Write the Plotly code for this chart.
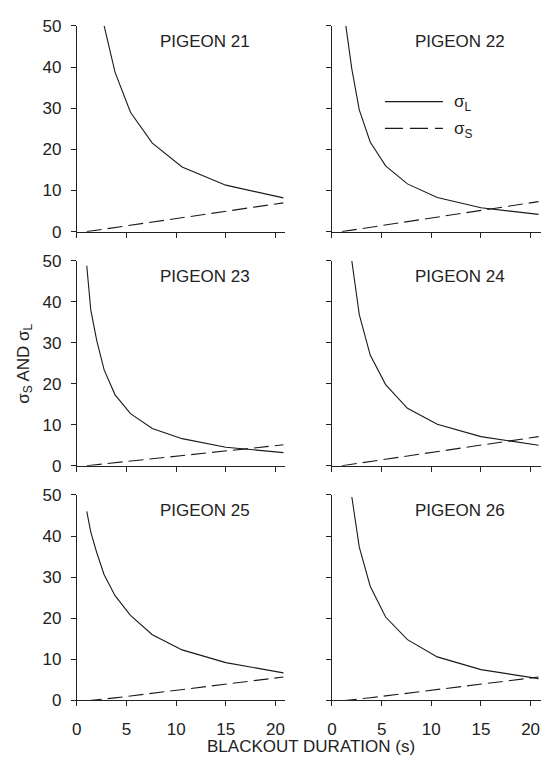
import plotly.graph_objects as go

# ---------------- data ----------------
durations = [1.0, 1.4, 2.0, 2.75, 3.85, 5.4, 7.6, 10.6, 15.0, 20.8]

pigeons = ["PIGEON 21", "PIGEON 22", "PIGEON 23", "PIGEON 24", "PIGEON 25", "PIGEON 26"]

# sigma_L (None = off the top of the chart)
sigmaL_21 = [None, None, None, 50.0, 38.7, 29.0, 21.5, 15.7, 11.3, 8.2]
sigmaL_22 = [None, 50.0, 39.5, 29.6, 21.8, 16.0, 11.6, 8.3, 5.8, 4.2]
sigmaL_23 = [48.8, 38.1, 30.6, 23.4, 17.3, 12.7, 9.1, 6.6, 4.5, 3.2]
sigmaL_24 = [None, None, 50.0, 36.9, 27.0, 19.8, 14.0, 10.1, 7.1, 5.0]
sigmaL_25 = [46.0, 41.0, 36.0, 30.6, 25.5, 20.7, 16.0, 12.3, 9.2, 6.7]
sigmaL_26 = [None, None, 49.5, 37.3, 27.8, 20.3, 14.8, 10.6, 7.5, 5.3]

# sigma_S
sigmaS_21 = [0.0, 0.14, 0.35, 0.62, 1.01, 1.56, 2.33, 3.39, 4.95, 7.0]
sigmaS_22 = [0.0, 0.15, 0.37, 0.64, 1.04, 1.61, 2.42, 3.52, 5.13, 7.3]
sigmaS_23 = [0.0, 0.10, 0.26, 0.45, 0.73, 1.13, 1.70, 2.47, 3.61, 5.1]
sigmaS_24 = [0.0, 0.14, 0.36, 0.63, 1.02, 1.58, 2.37, 3.44, 5.02, 7.1]
sigmaS_25 = [-0.08, 0.0, 0.12, 0.32, 0.63, 1.08, 1.73, 2.63, 3.95, 5.7]
sigmaS_26 = [-0.08, 0.0, 0.14, 0.34, 0.65, 1.10, 1.75, 2.65, 3.96, 5.7]

sigmaL_all = [sigmaL_21, sigmaL_22, sigmaL_23, sigmaL_24, sigmaL_25, sigmaL_26]
sigmaS_all = [sigmaS_21, sigmaS_22, sigmaS_23, sigmaS_24, sigmaS_25, sigmaS_26]

x_ticks = [0, 5, 10, 15, 20]
y_ticks = [0, 10, 20, 30, 40, 50]

# ---------------- layout geometry ----------------
W, H = 545, 767
col_dom = [[72.5 / W, 283.0 / W], [330.0 / W, 540.5 / W]]
row_px = [(17.3, 228.3), (258.3, 468.3), (498.3, 709.0)]
row_dom = [[(H - b) / H, (H - t) / H] for (t, b) in row_px]

INK = "#222222"
FONT = "Liberation Sans, Arial, Helvetica, sans-serif"
FS = 17

fig = go.Figure()

layout = dict(
    width=W, height=H,
    margin=dict(l=0, r=0, t=0, b=0),
    paper_bgcolor="white", plot_bgcolor="white",
    showlegend=False,
    font=dict(family=FONT, size=FS, color=INK),
)

annotations = []
shapes = []

for i in range(6):
    r, c = divmod(i, 2)
    n = i + 1
    xa = "xaxis" if n == 1 else f"xaxis{n}"
    ya = "yaxis" if n == 1 else f"yaxis{n}"
    xr = "x" if n == 1 else f"x{n}"
    yr = "y" if n == 1 else f"y{n}"

    fig.add_trace(go.Scatter(
        x=durations, y=sigmaL_all[i], mode="lines", xaxis=xr, yaxis=yr,
        line=dict(color="#1a1a1a", width=1.1), connectgaps=False,
        cliponaxis=False, hoverinfo="skip"))
    fig.add_trace(go.Scatter(
        x=durations, y=sigmaS_all[i], mode="lines", xaxis=xr, yaxis=yr,
        line=dict(color="#1a1a1a", width=1.1, dash="15px,6px"),
        cliponaxis=False, hoverinfo="skip"))

    layout[xa] = dict(
        domain=col_dom[c], anchor=yr, range=[0, 21],
        tickvals=x_ticks, showticklabels=(r == 2),
        showline=True, linecolor=INK, linewidth=1,
        ticks="outside", ticklen=5, tickwidth=1, tickcolor=INK,
        showgrid=False, zeroline=False, ticklabelstandoff=8,
        tickfont=dict(family=FONT, size=FS, color=INK), fixedrange=True)
    layout[ya] = dict(
        domain=row_dom[r], anchor=xr, range=[0, 50],
        tickvals=y_ticks, showticklabels=(c == 0),
        showline=True, linecolor=INK, linewidth=1,
        ticks="outside", ticklen=5, tickwidth=1, tickcolor=INK,
        showgrid=False, zeroline=False, ticklabelstandoff=6,
        tickfont=dict(family=FONT, size=FS, color=INK), fixedrange=True)

    annotations.append(dict(
        text=pigeons[i], xref=xr, yref=f"{yr} domain", x=12.9, y=0.924,
        xanchor="center", yanchor="middle", showarrow=False,
        font=dict(family=FONT, size=FS, color=INK)))

# legend (inside Pigeon 22 panel)
shapes.append(dict(type="line", xref="x2 domain", yref="y2 domain",
                   x0=0.254, x1=0.532, y0=0.632, y1=0.632,
                   line=dict(color="#1a1a1a", width=1.1)))
shapes.append(dict(type="line", xref="x2 domain", yref="y2 domain",
                   x0=0.254, x1=0.532, y0=0.502, y1=0.502,
                   line=dict(color="#1a1a1a", width=1.1, dash="18px,7px")))
annotations.append(dict(text="σ<sub>L</sub>", xref="x2 domain", yref="y2 domain",
                        x=0.575, y=0.625, xanchor="left", yanchor="middle",
                        showarrow=False, font=dict(family=FONT, size=FS, color=INK)))
annotations.append(dict(text="σ<sub>S</sub>", xref="x2 domain", yref="y2 domain",
                        x=0.575, y=0.495, xanchor="left", yanchor="middle",
                        showarrow=False, font=dict(family=FONT, size=FS, color=INK)))

# axis titles
annotations.append(dict(text="BLACKOUT DURATION (s)", xref="paper", yref="paper",
                        x=309 / W, y=(H - 756) / H, xanchor="center", yanchor="middle",
                        showarrow=False, font=dict(family=FONT, size=FS, color=INK)))
annotations.append(dict(text="σ<sub>S</sub> AND σ<sub>L</sub>", xref="paper", yref="paper",
                        x=20 / W, y=(H - 364) / H, xanchor="center", yanchor="middle",
                        textangle=-90, showarrow=False,
                        font=dict(family=FONT, size=FS, color=INK)))

layout["annotations"] = annotations
layout["shapes"] = shapes
fig.update_layout(**layout)

fig.write_html("out.html")
